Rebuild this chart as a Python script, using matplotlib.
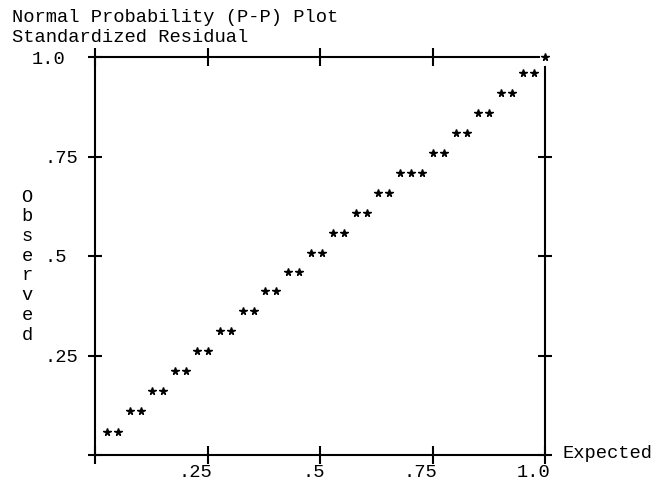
import matplotlib
matplotlib.use("Agg")
import matplotlib.pyplot as plt
from matplotlib.transforms import ScaledTranslation

# Datos (P-P normal, residuo estandarizado)
expected = [0.027, 0.051, 0.078, 0.102, 0.127, 0.151, 0.178, 0.202, 0.227, 0.251,
            0.278, 0.302, 0.329, 0.353, 0.378, 0.402, 0.429, 0.453, 0.480, 0.504,
            0.529, 0.553, 0.580, 0.604, 0.629, 0.653, 0.678, 0.702, 0.727, 0.751,
            0.776, 0.802, 0.827, 0.851, 0.876, 0.902, 0.927, 0.951, 0.976, 1.000]
observed = [0.058, 0.058, 0.111, 0.111, 0.161, 0.161, 0.211, 0.211, 0.261, 0.261,
            0.312, 0.312, 0.362, 0.362, 0.412, 0.412, 0.460, 0.460, 0.508, 0.508,
            0.558, 0.558, 0.608, 0.608, 0.658, 0.658, 0.709, 0.709, 0.709, 0.759,
            0.759, 0.809, 0.809, 0.859, 0.859, 0.910, 0.910, 0.960, 0.960, 1.000]

x_ticks = [0, 0.25, 0.5, 0.75, 1.0]
x_labels = ['', '.25', '.5', '.75', '1.0']
y_ticks = [0, 0.25, 0.5, 0.75, 1.0]
y_labels = ['', '.25', '.5', '.75', '1.0']

title_lines = ['Normal Probability (P-P) Plot', 'Standardized Residual']
xlabel = 'Expected'
ylabel = 'Observed'

fuente = 'Liberation Mono'
tam = 13.5
plt.rcParams['font.family'] = [fuente, 'DejaVu Sans Mono']
plt.rcParams['font.size'] = tam

fig = plt.figure(figsize=(6.53, 4.88), dpi=100)
ax = fig.add_axes([95 / 653, 33 / 488, 450 / 653, 398 / 488])

ax.plot(expected, observed, ls='none', marker='*', ms=5.5, color='black',
        clip_on=False, zorder=5)

ax.set_xlim(0, 1)
ax.set_ylim(0, 1)

# Marco estilo texto
for lado in ['left', 'right', 'top', 'bottom']:
    ax.spines[lado].set_linewidth(1.5)
    ax.spines[lado].set_color('black')
ax.spines['top'].set_bounds(0, 0.987)
ax.spines['right'].set_bounds(0, 0.975)

ax.set_xticks(x_ticks, x_labels)
ax.set_yticks(y_ticks, y_labels)
ax.tick_params(axis='x', direction='inout', length=13, width=1.5, pad=0,
               top=True, bottom=True, labelsize=tam)
ax.tick_params(axis='y', direction='inout', length=10, width=1.5, pad=7,
               left=True, right=True, labelsize=tam)

# sin marca en la esquina superior derecha (ahí está el asterisco)
ax.xaxis.get_major_ticks()[-1].tick2line.set_visible(False)
ax.yaxis.get_major_ticks()[-1].tick2line.set_visible(False)

# etiquetas del eje x alineadas a la derecha como en la salida de texto
desp = ScaledTranslation(5 / 100, 0, fig.dpi_scale_trans)
for lbl in ax.get_xticklabels():
    lbl.set_horizontalalignment('right')
    lbl.set_transform(lbl.get_transform() + desp)

for lbl in ax.get_yticklabels():
    if lbl.get_text() == '1.0':
        lbl.set_transform(lbl.get_transform() + ScaledTranslation(-13 / 100, 0, fig.dpi_scale_trans))
    elif lbl.get_text() == '.5':
        lbl.set_transform(lbl.get_transform() + ScaledTranslation(-11 / 100, 0, fig.dpi_scale_trans))

# Títulos
for i, linea in enumerate(title_lines):
    fig.text(12 / 653, 1 - (17 + i * 20) / 488, linea, ha='left', va='center',
             fontsize=tam, color='black')

# "Observed" vertical, una letra por renglón
for i, ch in enumerate(ylabel):
    ax.text(-68 / 450, 0.648 - i * 0.0495, ch, transform=ax.transAxes,
            ha='center', va='center', fontsize=tam)

ax.text(1.04, 0.003, xlabel, transform=ax.transAxes, ha='left', va='center',
        fontsize=tam)

fig.savefig('out.png', dpi=100)
